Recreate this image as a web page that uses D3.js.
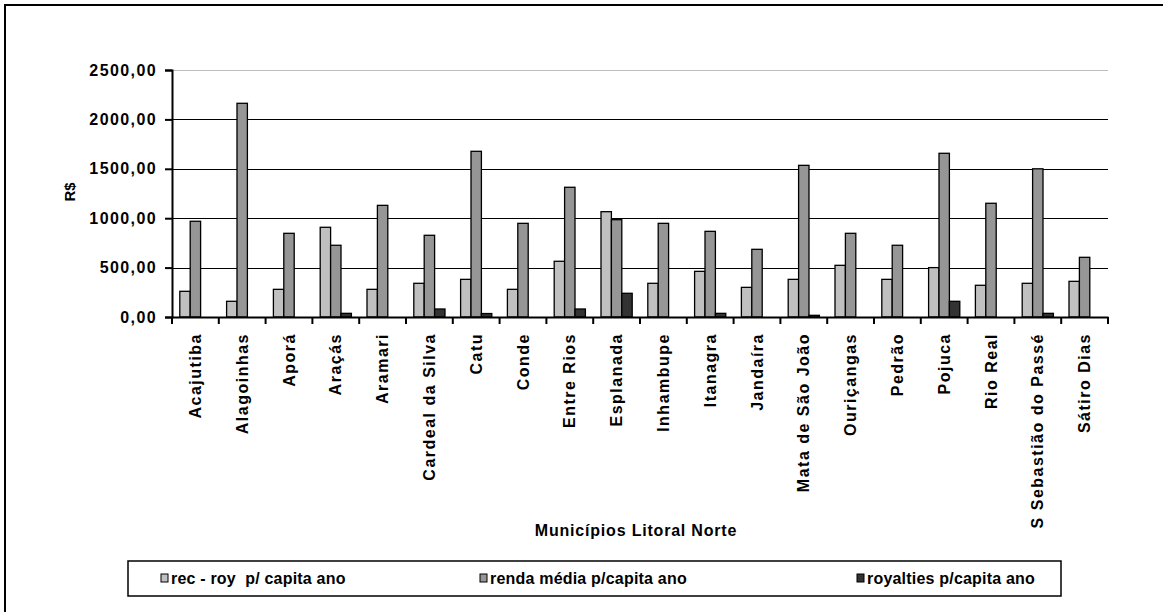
<!DOCTYPE html>
<html>
<head>
<meta charset="utf-8">
<script src="https://cdn.jsdelivr.net/npm/d3@7"></script>
<style>
  html, body { margin: 0; padding: 0; background: #fff; }
  svg text { font-family: Arial, "Liberation Sans", sans-serif; font-weight: bold; fill: #000; }
</style>
</head>
<body>
<svg id="chart" width="1163" height="612"></svg>
<script>
// Municípios do Litoral Norte (BA)
const municipios = [
  "Acajutiba", "Alagoinhas", "Aporá", "Araçás", "Aramari", "Cardeal da Silva",
  "Catu", "Conde", "Entre Rios", "Esplanada", "Inhambupe", "Itanagra", "Jandaíra",
  "Mata de São João", "Ouriçangas", "Pedrão", "Pojuca", "Rio Real",
  "S Sebastião do Passé", "Sátiro Dias"
];

// R$ per capita ao ano
const recRoy = [260, 159, 280, 908, 280, 341, 381, 280, 564, 1066, 341, 462, 300,
                381, 523, 381, 500, 321, 341, 361];
const rendaMedia = [969, 2163, 847, 726, 1130, 827, 1677, 948, 1313, 985, 948, 867, 685,
                    1535, 847, 726, 1657, 1151, 1500, 604];
const royalties = [0, 0, 0, 37, 0, 81, 35, 0, 81, 240, 0, 37, 0,
                   17, 0, 0, 159, 0, 37, 0];

const seriesNames = ["rec - roy  p/ capita ano", "renda média p/capita ano", "royalties p/capita ano"];
const seriesValues = [recRoy, rendaMedia, royalties];
const seriesColors = ["#c0c0c0", "#969696", "#333333"];

const yTicks = [0, 500, 1000, 1500, 2000, 2500];

const svg = d3.select("#chart");

// outer frame
svg.append("rect")
  .attr("x", 5).attr("y", 5).attr("width", 1170).attr("height", 620)
  .attr("fill", "none").attr("stroke", "#000").attr("stroke-width", 2);

const plot = { left: 172, right: 1108, top: 70, bottom: 317 };

const x = d3.scaleBand().domain(municipios).range([plot.left, plot.right]).padding(0);
const xs = d3.scaleBand().domain(d3.range(seriesNames.length))
  .range([0, x.bandwidth()]).paddingInner(0).paddingOuter(0.75);
const y = d3.scaleLinear().domain([0, 2500]).range([plot.bottom, plot.top]);

const fmt = v => d3.format(".2f")(v).replace(".", ",");

// gridlines
svg.append("g").selectAll("line").data(yTicks.filter(t => t > 0)).join("line")
  .attr("x1", plot.left).attr("x2", plot.right)
  .attr("y1", d => Math.round(y(d)) + 0.5).attr("y2", d => Math.round(y(d)) + 0.5)
  .attr("stroke", d => d === 2500 ? "#bdbdbd" : "#000")
  .attr("stroke-width", 1);

// bars
const rows = municipios.map((m, i) => ({ m, vals: seriesValues.map(s => s[i]) }));
const groups = svg.append("g").selectAll("g").data(rows).join("g")
  .attr("transform", d => `translate(${x(d.m)},0)`);
groups.selectAll("rect")
  .data(d => d.vals.map((v, k) => ({ v, k })).filter(e => e.v > 0))
  .join("rect")
  .attr("x", d => xs(d.k))
  .attr("width", xs.bandwidth())
  .attr("y", d => y(d.v))
  .attr("height", d => plot.bottom - y(d.v))
  .attr("fill", d => seriesColors[d.k])
  .attr("stroke", "#000")
  .attr("stroke-width", 1.3);

// y axis
const yAxis = svg.append("g")
  .attr("transform", `translate(${plot.left},0)`)
  .call(d3.axisLeft(y).tickValues(yTicks).tickFormat(fmt).tickSize(7).tickPadding(8));
yAxis.select(".domain").attr("stroke-width", 2);
yAxis.selectAll(".tick line").attr("stroke-width", 2);
yAxis.selectAll("text")
  .style("font-size", "16px").style("letter-spacing", "1.4px")
  .attr("font-family", null);

// x axis
const xAxis = svg.append("g")
  .attr("transform", `translate(0,${plot.bottom})`)
  .call(d3.axisBottom(x).tickSize(0).tickSizeOuter(0));
xAxis.select(".domain").attr("stroke-width", 2);
xAxis.selectAll(".tick text")
  .attr("transform", "rotate(-90)")
  .attr("x", -16).attr("y", 0).attr("dy", "0.35em")
  .attr("text-anchor", "end")
  .style("font-size", "16px").style("letter-spacing", "1.5px");
// category separators
svg.append("g").selectAll("line")
  .data(municipios.map(m => x(m)).concat([plot.right]))
  .join("line")
  .attr("x1", d => d).attr("x2", d => d)
  .attr("y1", plot.bottom).attr("y2", plot.bottom + 7)
  .attr("stroke", "#000").attr("stroke-width", 2);

// axis titles
svg.append("text")
  .attr("transform", `translate(75,192) rotate(-90)`)
  .attr("text-anchor", "middle")
  .style("font-size", "15px")
  .text("R$");
svg.append("text")
  .attr("x", 636).attr("y", 536)
  .attr("text-anchor", "middle")
  .style("font-size", "16px").style("letter-spacing", "0.8px")
  .text("Municípios Litoral Norte");

// legend
const legend = svg.append("g");
legend.append("rect")
  .attr("x", 128).attr("y", 561).attr("width", 933).attr("height", 35)
  .attr("fill", "#fff").attr("stroke", "#000").attr("stroke-width", 1.5);
const legendX = [161, 480, 857];
const items = legend.selectAll("g.item").data(seriesNames).join("g")
  .attr("class", "item")
  .attr("transform", (d, i) => `translate(${legendX[i]},578)`);
items.append("rect")
  .attr("x", 0).attr("y", -4).attr("width", 7).attr("height", 8)
  .attr("fill", (d, i) => seriesColors[i]).attr("stroke", "#000").attr("stroke-width", 1);
items.append("text")
  .attr("x", 10).attr("dy", "0.36em")
  .style("font-size", "16px").style("letter-spacing", "0.2px").style("white-space", "pre")
  .attr("xml:space", "preserve")
  .text(d => d);
</script>
</body>
</html>
